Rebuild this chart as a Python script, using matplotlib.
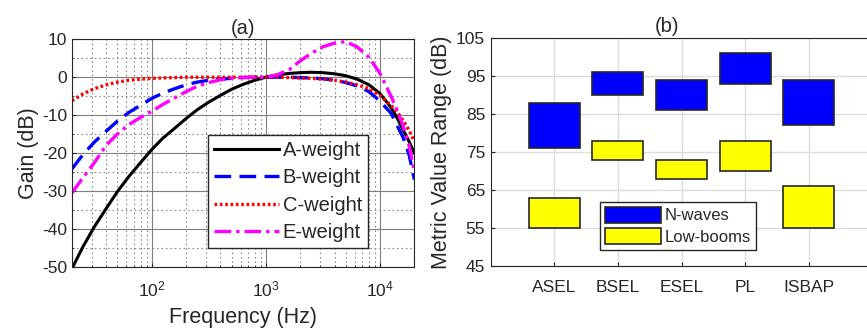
import numpy as np
import matplotlib
matplotlib.use("Agg")
import matplotlib.pyplot as plt
from matplotlib.ticker import LogLocator, MultipleLocator, NullFormatter

plt.rcParams['font.family'] = ['Liberation Sans', 'DejaVu Sans']
plt.rcParams['axes.unicode_minus'] = False
plt.rcParams['text.color'] = '#262626'
plt.rcParams['axes.labelcolor'] = '#262626'
plt.rcParams['xtick.color'] = '#262626'
plt.rcParams['ytick.color'] = '#262626'

# panel (a): weighting curves, read at 1/3-octave frequencies
freq = [20, 25, 31.5, 40, 50, 63, 80, 100, 125, 160, 200, 250, 315, 400, 500, 630,
        800, 1000, 1250, 1600, 2000, 2500, 3150, 4000, 5000, 6300, 8000, 10000,
        12500, 14000, 16000, 18000, 20000]
a_weight = [-50.5, -44.7, -39.4, -34.6, -30.2, -26.2, -22.5, -19.1, -16.1, -13.4, -10.9,
            -8.6, -6.6, -4.8, -3.2, -1.9, -0.8, 0.0, 0.6, 1.0, 1.2, 1.3, 1.2, 0.9, 0.4,
            -0.5, -2.0, -4.3, -8.0, -10.5, -14.0, -17.0, -20.0]
b_weight = [-24.2, -20.4, -17.1, -14.2, -11.6, -9.3, -7.4, -5.6, -4.2, -3.0, -2.0, -1.3,
            -0.8, -0.5, -0.3, -0.1, 0.0, 0.0, 0.0, 0.0, -0.1, -0.2, -0.4, -0.8, -1.4,
            -2.3, -3.8, -6.3, -9.5, -12.5, -16.0, -20.5, -27.0]
c_weight = [-6.2, -4.4, -3.0, -2.0, -1.3, -0.8, -0.5, -0.3, -0.2, -0.1, 0.0, 0.0, 0.0,
            0.0, 0.0, 0.0, 0.0, 0.0, 0.0, -0.1, -0.2, -0.3, -0.5, -0.8, -1.3, -2.0,
            -3.0, -4.8, -7.5, -9.0, -11.5, -14.0, -17.0]
e_weight = [-30.5, -26.5, -22.5, -17.9, -15.0, -12.5, -10.6, -9.0, -7.2, -5.4, -3.8,
            -2.4, -1.4, -0.7, -0.3, -0.1, 0.0, 0.0, 0.6, 2.0, 4.3, 6.3, 8.0, 9.0, 9.4,
            8.0, 5.3, 1.0, -5.0, -8.5, -13.0, -18.0, -25.0]

# panel (b): metric ranges
metrics = ['ASEL', 'BSEL', 'ESEL', 'PL', 'ISBAP']
nwave_low = [76, 90, 86, 93, 82]
nwave_high = [88, 96, 94, 101, 94]
lowboom_low = [55, 73, 68, 70, 55]
lowboom_high = [63, 78, 73, 78, 66]

fig = plt.figure(figsize=(8.67, 3.32), dpi=100)

ax1 = fig.add_axes([0.0830, 0.1967, 0.3949, 0.6849])
ax1.semilogx(freq, a_weight, color='black', lw=2.2, ls='-', label='A-weight')
ax1.semilogx(freq, b_weight, color='#0000ff', lw=2.4, ls=(0, (5, 2.5)), label='B-weight')
ax1.semilogx(freq, c_weight, color='#ff0000', lw=2.4, ls=(0, (0.8, 0.8)), label='C-weight')
ax1.semilogx(freq, e_weight, color='#ff00ff', lw=2.4, ls=(0, (5, 1.5, 1, 1.5)), label='E-weight')
ax1.set_xlim(20, 20000)
ax1.set_ylim(-50, 10)
ax1.xaxis.set_major_locator(LogLocator(base=10, numticks=10))
ax1.xaxis.set_minor_locator(LogLocator(base=10, subs=np.arange(2, 10), numticks=20))
ax1.xaxis.set_minor_formatter(NullFormatter())
ax1.yaxis.set_major_locator(MultipleLocator(10))
ax1.yaxis.set_minor_locator(MultipleLocator(5))
ax1.grid(which='major', color='#7f7f7f', lw=0.8, ls='-')
ax1.grid(which='minor', color='#8c8c8c', lw=0.8, ls=(0, (1.5, 2.5)))
ax1.set_axisbelow(True)
ax1.tick_params(which='both', direction='in', labelsize=12.5, length=3)
ax1.tick_params(which='minor', length=1.5)
ax1.tick_params(axis='x', pad=9)
ax1.set_xlabel('Frequency (Hz)', fontsize=15.5, labelpad=6)
ax1.set_ylabel('Gain (dB)', fontsize=15.5, labelpad=2)
ax1.set_title('(a)', fontsize=14.5, pad=4)
for s in ax1.spines.values():
    s.set_color('#262626')
leg1 = ax1.legend(loc='lower left', bbox_to_anchor=(0.398, 0.082), fontsize=14.5,
                  handlelength=3.2, fancybox=False, framealpha=1, edgecolor='#262626',
                  borderpad=0.3, labelspacing=0.42, handletextpad=0.2, borderaxespad=0)
leg1.get_frame().set_linewidth(1.0)

# axes runs past the right edge of the figure, as in the reference
ax2 = fig.add_axes([0.566, 0.1988, 0.5135, 0.6867])
x = np.arange(1, len(metrics) + 1)
ax2.bar(x, np.array(nwave_high) - np.array(nwave_low), bottom=nwave_low, width=0.8,
        color='#0000ff', edgecolor='#262626', lw=1.2, label='N-waves')
ax2.bar(x, np.array(lowboom_high) - np.array(lowboom_low), bottom=lowboom_low, width=0.8,
        color='#ffff00', edgecolor='#262626', lw=1.2, label='Low-booms')
ax2.set_xlim(0, 7)
ax2.set_ylim(45, 105)
ax2.set_xticks(x)
ax2.set_xticklabels(metrics)
ax2.set_yticks(range(45, 106, 10))
ax2.grid(color='#dcdcdc', lw=1)
ax2.set_axisbelow(True)
ax2.tick_params(direction='in', labelsize=12.5, length=3, pad=10)
ax2.tick_params(axis='y', pad=4)
ax2.set_ylabel('Metric Value Range (dB)', fontsize=15.5, labelpad=3)
ax2.set_title('(b)', fontsize=14.5, pad=4, x=176.0 / 445.2)
ax2.spines['right'].set_visible(False)
for s in ax2.spines.values():
    s.set_color('#262626')
leg2 = ax2.legend(loc='lower left', bbox_to_anchor=(109.0 / 445.2, 0.07), fontsize=12,
                  handlelength=3.4, handleheight=1.1, fancybox=False, framealpha=1,
                  edgecolor='#262626', borderpad=0.3, labelspacing=0.3,
                  handletextpad=0.2, borderaxespad=0)
leg2.get_frame().set_linewidth(1.0)

fig.savefig('out.png', dpi=100)
